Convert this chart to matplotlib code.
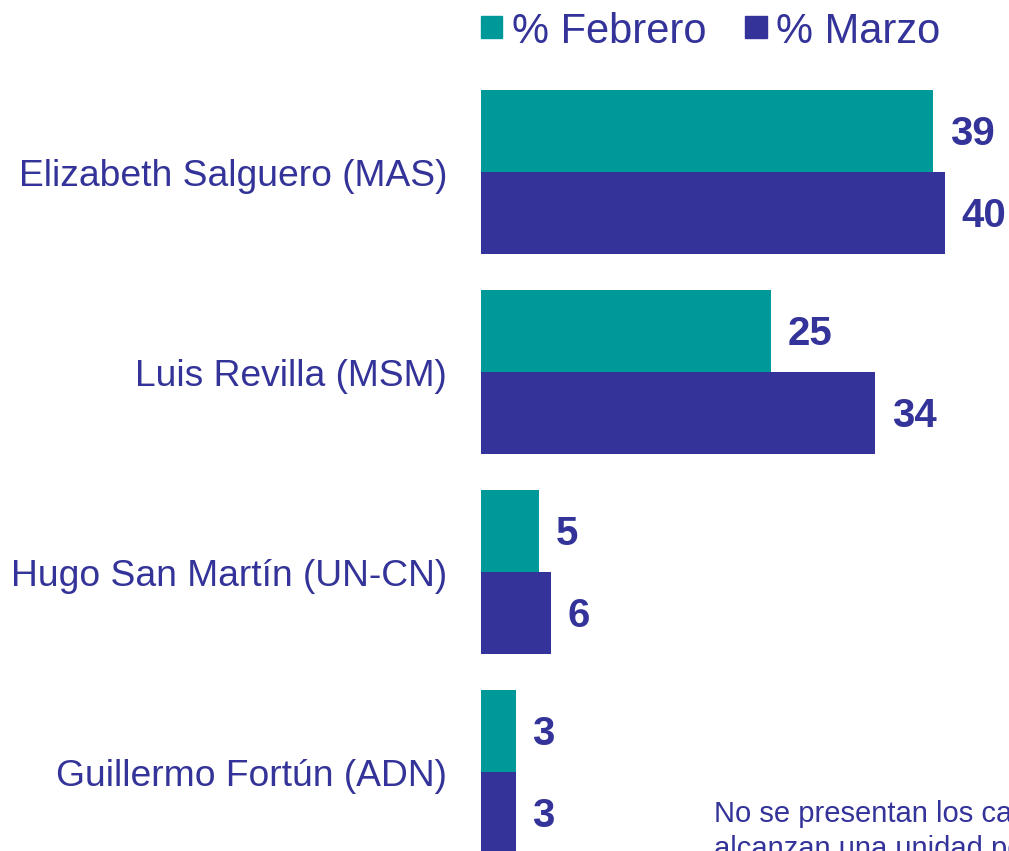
import matplotlib
matplotlib.use("Agg")
import matplotlib.pyplot as plt
from matplotlib.patches import Rectangle
import numpy as np

plt.rcParams['font.family'] = ['Liberation Sans', 'DejaVu Sans']

candidates = ["Elizabeth Salguero (MAS)", "Luis Revilla (MSM)",
              "Hugo San Martín (UN-CN)", "Guillermo Fortún (ADN)"]
febrero = [39, 25, 5, 3]
marzo = [40, 34, 6, 3]
series_names = ["% Febrero", "% Marzo"]
note_lines = ["No se presentan los candidatos que no",
              "alcanzan una unidad porcentual"]

teal = "#009999"
navy = "#333399"
text_col = "#333399"

W, H = 1009, 851
fig = plt.figure(figsize=(W / 100, H / 100), dpi=100)
ax_left = 481 / W
ax = fig.add_axes([ax_left, 0, 1 - ax_left, 1])

px_per_unit = 11.6
ax.set_xlim(0, (W - 481) / px_per_unit)
# 1 y-unit = 200 px, group i boundary at pixel 172 + 200 i
ax.set_ylim((H - 172) / 200, -172 / 200)

y = np.arange(len(candidates))
h = 82 / 200
ax.barh(y - h / 2, febrero, height=h, color=teal)
ax.barh(y + h / 2, marzo, height=h, color=navy)

for yi, v in zip(y, febrero):
    ax.annotate(f"{v}", (v, yi - h / 2), xytext=(12, -2.3), textcoords="offset points",
                ha="left", va="center", fontsize=29, fontweight="bold", color=text_col)
for yi, v in zip(y, marzo):
    ax.annotate(f"{v}", (v, yi + h / 2), xytext=(12, -2.3), textcoords="offset points",
                ha="left", va="center", fontsize=29, fontweight="bold", color=text_col)

ax.set_yticks(y)
ax.set_yticklabels(candidates, fontsize=26.8, color=text_col)
ax.tick_params(axis="y", length=0, pad=24.5)
ax.set_xticks([])
for s in ax.spines.values():
    s.set_visible(False)

# legend
def fx(px):
    return px / W

def fy(py):
    return 1 - py / H

fig.patches.append(Rectangle((fx(481), fy(37.5)), 21 / W, 21 / H, color=teal,
                             transform=fig.transFigure, figure=fig))
fig.text(fx(512), fy(43), series_names[0], fontsize=30, color=text_col,
         ha="left", va="baseline")
fig.patches.append(Rectangle((fx(745), fy(37.5)), 22 / W, 21 / H, color=navy,
                             transform=fig.transFigure, figure=fig))
fig.text(fx(776), fy(43), series_names[1], fontsize=30, color=text_col,
         ha="left", va="baseline")

# footnote (cropped at the edge of the picture, as in the reference)
fig.text(fx(714), fy(822), note_lines[0], fontsize=21, color=text_col,
         ha="left", va="baseline")
fig.text(fx(714), fy(857), note_lines[1], fontsize=21, color=text_col,
         ha="left", va="baseline")

fig.savefig("out.png", dpi=100)
